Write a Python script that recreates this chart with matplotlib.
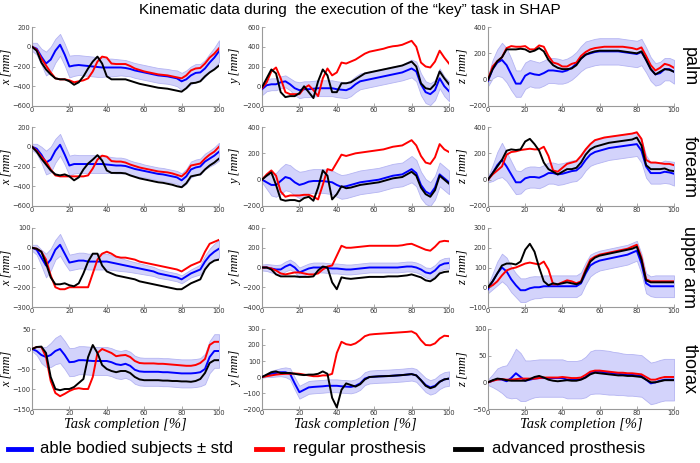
import numpy as np
import matplotlib
matplotlib.use("Agg")
import matplotlib.pyplot as plt
from matplotlib.lines import Line2D

t = [0, 2.5, 5, 7.5, 10, 12.5, 15, 17.5, 20, 22.5,
     25, 27.5, 30, 32.5, 35, 37.5, 40, 42.5, 45, 47.5,
     50, 52.5, 55, 57.5, 60, 62.5, 65, 67.5, 70, 72.5,
     75, 77.5, 80, 82.5, 85, 87.5, 90, 92.5, 95, 97.5,
     100]

# ---------------- palm ----------------
palm_x_mean = [0,-20,-100,-170,-130,-40,20,-80,-200,-190,
               -185,-190,-195,-200,-205,-210,-210,-210,-210,-210,
               -215,-225,-240,-250,-260,-270,-280,-290,-295,-300,
               -310,-320,-350,-330,-290,-265,-260,-220,-160,-110,
               -45]
palm_x_std = [40,60,80,120,130,120,110,110,110,105,
              100,100,100,100,100,95,90,90,85,80,
              80,75,75,75,75,75,75,75,75,75,
              75,80,85,90,90,90,85,85,90,100,
              110]
palm_x_reg = [0,-30,-120,-190,-260,-320,-330,-330,-340,-360,
              -350,-340,-320,-250,-150,-100,-110,-170,-175,-175,
              -175,-195,-220,-235,-250,-260,-270,-280,-285,-290,
              -300,-310,-320,-290,-240,-220,-215,-170,-110,-70,
              -15]
palm_x_adv = [0,-40,-160,-230,-280,-320,-330,-330,-350,-385,
              -360,-300,-220,-150,-100,-170,-300,-330,-330,-330,
              -330,-345,-360,-375,-385,-395,-405,-415,-420,-425,
              -435,-445,-455,-420,-370,-365,-350,-300,-260,-230,
              -190]

palm_y_mean = [-30,10,20,20,40,50,20,-20,-40,-30,
               -30,-25,-20,-20,-20,-20,-30,-35,-40,-20,
               20,50,60,70,80,90,100,110,120,130,
               140,160,180,150,20,-60,-80,-40,80,0,
               -50]
palm_y_std = [60,60,60,60,60,60,60,70,80,80,
              80,80,80,80,80,80,80,80,80,80,
              80,80,80,80,80,80,80,80,80,80,
              80,85,90,100,110,110,110,100,100,100,
              100]
palm_y_reg = [-20,40,150,190,80,-60,-80,-80,-80,-20,
              10,-40,-100,80,180,110,140,240,230,250,
              270,300,330,350,360,370,380,395,405,410,
              420,440,460,400,240,200,190,250,360,290,
              230]
palm_y_adv = [-10,80,170,130,-60,-110,-100,-100,-70,0,
              -60,-120,50,170,110,-60,-60,30,30,40,
              70,100,130,140,150,160,170,180,190,200,
              210,230,250,200,30,-20,-30,20,150,80,
              20]

palm_z_mean = [-10,80,130,150,110,40,-30,-30,30,50,
               40,35,50,70,70,65,60,70,90,120,
               160,190,200,210,215,215,215,215,215,210,
               205,200,195,210,150,80,40,50,80,80,
               60]
palm_z_std = [40,70,100,130,130,120,100,100,100,100,
              100,95,95,95,95,95,90,90,90,90,
              95,100,100,100,100,100,100,100,100,100,
              100,100,100,100,95,90,85,85,85,85,
              90]
palm_z_reg = [0,100,140,170,240,255,250,250,255,230,
              230,260,250,180,130,120,100,100,120,130,
              180,210,230,240,245,250,250,250,250,250,
              245,240,230,245,180,110,70,90,120,110,
              90]
palm_z_adv = [0,80,140,170,230,230,230,235,230,210,
              220,240,215,150,110,90,80,80,85,110,
              160,190,205,215,220,220,220,220,220,215,
              210,205,200,215,150,80,40,60,80,75,
              60]

# ---------------- forearm ----------------
forearm_x_mean = [0,-20,-80,-160,-130,-40,20,-80,-190,-175,
                  -175,-175,-175,-175,-175,-175,-180,-185,-190,-190,
                  -195,-210,-225,-235,-245,-255,-265,-275,-280,-290,
                  -300,-310,-340,-300,-230,-210,-200,-150,-120,-90,
                  -50]
forearm_x_std = [30,50,80,120,130,120,110,100,100,95,
                 90,90,90,90,90,90,85,80,80,80,
                 75,70,70,70,65,65,65,65,65,65,
                 65,65,70,75,80,80,80,80,80,85,
                 90]
forearm_x_reg = [0,-40,-100,-150,-230,-290,-300,-300,-300,-300,
                 -300,-300,-290,-220,-130,-90,-100,-145,-150,-150,
                 -160,-180,-195,-210,-220,-230,-240,-250,-255,-260,
                 -270,-285,-300,-260,-190,-180,-170,-120,-80,-50,
                 0]
forearm_x_adv = [0,-50,-120,-180,-240,-280,-290,-280,-300,-340,
                 -310,-230,-170,-130,-85,-140,-240,-265,-265,-265,
                 -270,-290,-305,-320,-330,-340,-350,-360,-365,-375,
                 -385,-400,-410,-370,-300,-290,-280,-230,-190,-160,
                 -120]

forearm_y_mean = [0,-20,-40,-40,-10,20,10,-20,-40,-30,
                  -15,-10,-10,-10,-15,-20,-40,-55,-50,-40,
                  -30,-20,-15,-10,-5,0,10,20,30,35,
                  40,60,80,50,-40,-90,-110,-60,40,10,
                  -20]
forearm_y_std = [20,50,80,90,100,100,100,100,100,95,
                 90,90,90,90,90,90,90,90,90,90,
                 90,90,90,90,90,90,90,90,90,90,
                 90,95,100,100,100,95,90,90,90,90,
                 90]
forearm_y_reg = [0,40,70,30,-90,-130,-120,-120,-120,-115,
                 -115,-130,-150,-40,80,70,130,190,180,190,
                 200,205,210,215,220,225,230,240,250,255,
                 260,280,300,260,180,130,120,170,270,230,
                 210]
forearm_y_adv = [0,30,55,-40,-150,-160,-155,-155,-165,-140,
                 -130,-160,-60,70,30,-150,-110,-50,-65,-60,
                 -50,-40,-35,-30,-25,-20,-10,0,10,15,
                 20,40,60,30,-60,-110,-130,-80,30,0,
                 -30]

forearm_z_mean = [0,50,110,150,100,40,-20,-20,10,20,
                  20,15,30,50,50,40,45,55,65,70,
                  100,150,190,210,220,230,240,245,250,255,
                  260,265,270,220,100,50,50,50,60,55,
                  45]
forearm_z_std = [20,60,100,130,110,100,90,85,80,80,
                 80,80,80,80,80,80,80,80,80,80,
                 80,80,85,90,90,90,90,90,90,90,
                 90,90,90,90,85,80,80,80,85,85,
                 90]
forearm_z_reg = [0,40,70,100,190,210,215,225,230,235,
                 230,230,250,180,70,60,90,120,130,140,
                 180,230,270,300,310,320,325,330,335,340,
                 345,350,360,310,150,130,130,125,120,120,
                 110]
forearm_z_adv = [0,50,100,150,220,230,225,230,290,310,
                 270,220,130,80,60,40,60,80,80,90,
                 130,190,230,250,260,270,280,285,290,295,
                 300,305,320,260,110,80,80,80,85,70,
                 65]

# ---------------- upper arm ----------------
upperarm_x_mean = [0,-10,-50,-90,-60,-10,15,-30,-75,-70,
                   -65,-65,-70,-70,-70,-70,-70,-75,-80,-85,
                   -90,-95,-100,-105,-110,-115,-120,-130,-135,-140,
                   -145,-150,-160,-145,-130,-120,-110,-70,-40,-20,
                   -5]
upperarm_x_std = [15,25,40,60,55,50,55,50,40,40,
                  40,40,40,40,40,40,40,37,35,33,
                  30,28,27,26,25,24,23,22,21,20,
                  20,20,20,20,20,22,25,30,35,40,
                  45]
upperarm_x_reg = [0,-5,-20,-60,-140,-200,-210,-210,-200,-200,
                  -200,-200,-200,-130,-60,-30,-20,-30,-45,-50,
                  -50,-55,-60,-70,-75,-80,-85,-90,-95,-100,
                  -105,-110,-120,-105,-90,-80,-70,-20,20,30,
                  40]
upperarm_x_adv = [0,-5,-20,-80,-150,-185,-185,-180,-190,-195,
                  -180,-130,-70,-30,-30,-90,-120,-130,-140,-145,
                  -150,-155,-160,-170,-175,-180,-185,-190,-195,-200,
                  -205,-210,-210,-195,-180,-170,-160,-110,-80,-65,
                  -60]

upperarm_y_mean = [0,0,-10,-20,-20,10,30,0,-50,-30,
                   -10,0,0,0,-5,-10,-10,-15,-20,-20,
                   -15,-10,-5,0,0,0,0,0,0,0,
                   5,10,10,0,-20,-50,-60,-30,20,40,
                   45]
upperarm_y_std = [30,35,40,45,50,50,50,50,50,50,
                  50,50,50,50,50,50,50,50,50,50,
                  50,50,50,50,50,50,50,50,50,50,
                  50,50,50,50,50,50,55,55,55,55,
                  55]
upperarm_y_reg = [0,0,-10,-30,-60,-70,-60,-50,-50,-60,
                  -70,-70,-60,-20,10,20,120,220,200,200,
                  205,210,215,220,220,220,220,220,220,220,
                  225,235,240,220,200,180,170,210,260,270,
                  265]
upperarm_y_adv = [0,0,-20,-70,-90,-90,-90,-90,-95,-95,
                  -95,-90,-30,10,0,-150,-220,-100,-110,-115,
                  -110,-105,-100,-95,-95,-95,-95,-90,-90,-90,
                  -85,-80,-70,-85,-100,-130,-140,-110,-60,-45,
                  -40]

upperarm_z_mean = [-10,30,70,100,80,40,10,-15,-15,-5,
                   0,0,5,5,5,5,5,5,5,5,
                   20,70,110,125,135,140,145,150,155,160,
                   165,175,185,120,20,5,5,5,5,5,
                   5]
upperarm_z_std = [20,40,60,70,70,65,60,60,60,58,
                  56,55,55,55,55,55,55,55,55,55,
                  55,55,55,52,50,50,50,50,50,50,
                  50,50,50,50,50,50,55,55,55,55,
                  55]
upperarm_z_reg = [0,10,30,60,85,95,100,110,120,125,
                  120,115,130,90,15,15,25,35,30,20,
                  30,90,140,155,165,170,175,180,185,190,
                  195,205,215,150,40,30,30,30,30,30,
                  30]
upperarm_z_adv = [0,30,70,110,120,120,115,130,190,220,
                  180,100,30,10,20,15,20,25,20,15,
                  25,80,130,150,160,165,170,175,180,185,
                  190,195,205,140,35,25,25,25,25,25,
                  25]

# ---------------- thorax ----------------
thorax_x_mean = [0,-5,-15,-20,-15,-5,0,-15,-33,-32,
                 -28,-28,-29,-30,-30,-30,-30,-33,-38,-40,
                 -37,-42,-52,-56,-57,-57,-57,-57,-58,-58,
                 -59,-60,-61,-61,-61,-60,-58,-50,-20,-5,
                 -5]
thorax_x_std = [5,10,20,25,30,33,35,35,35,35,
                35,35,35,35,35,35,35,35,35,35,
                35,35,35,35,35,35,35,35,35,35,
                35,35,35,35,35,35,35,38,40,42,
                42]
thorax_x_reg = [0,5,5,-20,-80,-110,-118,-112,-105,-100,
                -98,-100,-100,-70,-10,0,-5,-10,-18,-16,
                -15,-20,-30,-35,-36,-36,-36,-37,-37,-38,
                -39,-40,-41,-42,-42,-40,-35,-25,10,18,
                18]
thorax_x_adv = [0,5,6,-10,-70,-100,-103,-100,-100,-95,
                -85,-75,-20,10,-10,-40,-50,-55,-58,-55,
                -55,-60,-70,-76,-78,-78,-78,-78,-79,-79,
                -80,-80,-81,-81,-82,-80,-75,-60,-35,-28,
                -28]

thorax_y_mean = [0,10,20,25,30,30,20,-40,-95,-80,
                 -65,-62,-60,-58,-55,-55,-55,-58,-60,-62,
                 -55,-40,-10,0,2,4,5,6,8,10,
                 12,15,18,10,-20,-50,-65,-55,-30,-15,
                 -10]
thorax_y_std = [5,10,20,22,25,30,35,38,40,40,
                40,40,40,40,40,40,40,40,40,40,
                40,40,40,40,40,40,40,40,40,40,
                40,40,40,40,42,44,45,45,45,45,
                45]
thorax_y_reg = [0,5,10,15,18,20,20,22,20,15,
                10,5,5,10,10,20,150,220,205,200,
                210,230,255,265,268,270,272,274,276,278,
                280,282,285,270,230,200,198,210,240,258,
                255]
thorax_y_adv = [0,15,30,35,25,25,25,20,15,12,
                15,15,20,35,20,-130,-190,-80,-40,-50,
                -60,-45,-15,0,2,4,5,6,8,10,
                12,15,18,10,-20,-55,-70,-60,-30,-15,
                -10]

thorax_z_mean = [0,3,6,5,2,8,17,10,3,5,
                 7,8,8,8,8,8,8,5,5,5,
                 6,10,18,20,20,19,18,17,16,15,
                 14,14,13,12,5,-2,0,3,5,5,
                 5]
thorax_z_std = [5,12,20,25,30,38,46,45,38,36,
                35,35,35,35,35,35,35,35,35,35,
                36,38,40,41,41,41,41,40,40,39,
                39,39,39,39,39,39,39,39,39,39,
                39]
thorax_z_reg = [0,3,5,6,5,5,6,7,7,7,
                7,8,9,9,9,9,10,9,8,8,
                9,14,20,22,22,21,20,19,18,18,
                17,17,16,15,10,5,5,8,10,10,
                10]
thorax_z_adv = [0,4,7,6,4,3,3,3,3,6,
                10,12,9,5,3,2,3,4,3,3,
                5,9,15,18,17,16,15,14,13,13,
                12,12,11,10,5,0,0,2,4,4,
                4]

segments = ["palm", "forearm", "upper arm", "thorax"]
axis_names = ["x", "y", "z"]
legend_labels = ["able bodied subjects \u00b1 std", "regular prosthesis", "advanced prosthesis"]
title = "Kinematic data during  the execution of the \u201ckey\u201d task in SHAP"
xlabel = "Task completion [%]"

data = [
    [(palm_x_mean, palm_x_std, palm_x_reg, palm_x_adv),
     (palm_y_mean, palm_y_std, palm_y_reg, palm_y_adv),
     (palm_z_mean, palm_z_std, palm_z_reg, palm_z_adv)],
    [(forearm_x_mean, forearm_x_std, forearm_x_reg, forearm_x_adv),
     (forearm_y_mean, forearm_y_std, forearm_y_reg, forearm_y_adv),
     (forearm_z_mean, forearm_z_std, forearm_z_reg, forearm_z_adv)],
    [(upperarm_x_mean, upperarm_x_std, upperarm_x_reg, upperarm_x_adv),
     (upperarm_y_mean, upperarm_y_std, upperarm_y_reg, upperarm_y_adv),
     (upperarm_z_mean, upperarm_z_std, upperarm_z_reg, upperarm_z_adv)],
    [(thorax_x_mean, thorax_x_std, thorax_x_reg, thorax_x_adv),
     (thorax_y_mean, thorax_y_std, thorax_y_reg, thorax_y_adv),
     (thorax_z_mean, thorax_z_std, thorax_z_reg, thorax_z_adv)],
]

ylims = [
    [(-600, 200), (-200, 600), (-200, 400)],
    [(-600, 200), (-200, 400), (-200, 400)],
    [(-300, 100), (-400, 400), (-100, 300)],
    [(-150, 50), (-200, 300), (-50, 100)],
]
ysteps = [
    [200, 200, 200],
    [200, 200, 200],
    [100, 200, 100],
    [50, 100, 50],
]

W, H = 700, 463
fig = plt.figure(figsize=(7.0, 4.63), dpi=100)

col_left = [32, 262, 488]
col_w = [187, 187, 186]
row_top = [27, 127, 228, 329]
row_h = [79, 79, 79, 80]

C_BLUE = "#0000ff"
C_RED = "#ff0000"
C_BLACK = "#000000"
C_BAND = "#d3d3fb"
C_BAND_EDGE = "#b4b4f2"

serif_it = dict(family="Liberation Serif", style="italic")
tarr = np.array(t)

for r in range(4):
    for c in range(3):
        l, w = col_left[c], col_w[c]
        tp, h = row_top[r], row_h[r]
        ax = fig.add_axes([l / W, 1 - (tp + h) / H, w / W, h / H])
        mean, std, reg, adv = [np.array(a, dtype=float) for a in data[r][c]]
        ax.fill_between(tarr, mean - std, mean + std, facecolor=C_BAND,
                        edgecolor=C_BAND_EDGE, linewidth=0.6, zorder=1)
        ax.plot(tarr, mean, color=C_BLUE, lw=1.4, zorder=3)
        ax.plot(tarr, reg, color=C_RED, lw=1.4, zorder=4)
        ax.plot(tarr, adv, color=C_BLACK, lw=1.4, zorder=5)
        lo, hi = ylims[r][c]
        ax.set_xlim(0, 100)
        ax.set_ylim(lo, hi)
        ax.set_xticks([0, 20, 40, 60, 80, 100])
        ax.set_yticks(np.arange(lo, hi + 1, ysteps[r][c]))
        for s in ["top", "right"]:
            ax.spines[s].set_visible(False)
        for s in ["left", "bottom"]:
            ax.spines[s].set_color("#9a9a9a")
            ax.spines[s].set_linewidth(0.8)
        ax.tick_params(labelsize=4.8, length=2, width=0.6, color="#9a9a9a",
                       labelcolor="#333333", direction="in", pad=1)
        ax.patch.set_alpha(0)
        ax.set_ylabel(f"{axis_names[c]} [mm]", fontsize=9, **serif_it)
        ax.yaxis.set_label_coords(-19.5 / w, 0.5)
        if r == 3:
            ax.set_xlabel(xlabel, fontsize=10.5, labelpad=1, **serif_it)
    fig.text(689 / W, 1 - (row_top[r] + row_h[r] / 2) / H, segments[r],
             rotation=-90, ha="center", va="center", fontsize=13,
             family="Liberation Sans")

fig.text(350 / W, 1 - 10 / H, title, ha="center", va="center", fontsize=11,
         family="Liberation Sans")

# legend
ly = 1 - 449 / H
leg = [(8, 31, 40, C_BLUE), (256, 282, 293, C_RED), (455, 481, 492, C_BLACK)]
for (x0, x1, xt, col), lab in zip(leg, legend_labels):
    fig.add_artist(Line2D([x0 / W, x1 / W], [ly, ly], color=col, lw=3.5,
                          transform=fig.transFigure))
    fig.text(xt / W, ly, lab, ha="left", va="center", fontsize=12,
             family="Liberation Sans")

fig.savefig("out.png", dpi=100)
